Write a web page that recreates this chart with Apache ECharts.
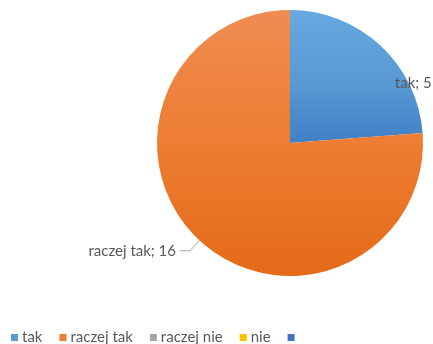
<!DOCTYPE html>
<html>
<head>
<meta charset="utf-8">
<script src="https://cdn.jsdelivr.net/npm/echarts@6/dist/echarts.min.js"></script>
<style>
  html, body { margin: 0; padding: 0; background: #fff; }
  #chart { width: 433px; height: 344px; }
</style>
</head>
<body>
<div id="chart"></div>
<script>
// dane
var categories = ['tak', 'raczej tak', 'raczej nie', 'nie', ' '];
var values = [5, 16, 0, 0, 0];
// kolory motywu (legenda) i gradient wycinków
var themeColors = ['#5B9BD5', '#ED7D31', '#A5A5A5', '#FFC000', '#4472C4'];
var topColors = ['#68A8E0', '#F08C52', '#B5B5B5', '#FFCA33', '#5580CC'];
var bottomColors = ['#4081C6', '#E46A18', '#959595', '#EBB000', '#3B66B5'];

var chart = echarts.init(document.getElementById('chart'));

var pieData = categories.map(function (name, i) {
  return {
    name: name,
    value: values[i],
    itemStyle: {
      color: new echarts.graphic.LinearGradient(0, 0, 0, 1, [
        { offset: 0, color: topColors[i] },
        { offset: 0.5, color: themeColors[i] },
        { offset: 1, color: bottomColors[i] }
      ])
    },
    label: { show: values[i] > 0 },
    labelLine: { show: values[i] > 0 }
  };
});
// etykieta "tak" przy krawędzi wycinka, jak w Excelu
pieData[0].label = { show: true, position: 'inside', offset: [76, -9] };
pieData[0].labelLine = { show: false };

chart.setOption({
  animation: false,
  textStyle: { fontFamily: 'Lato, "Liberation Sans", sans-serif' },
  legend: {
    data: categories.map(function (name, i) {
      return { name: name, itemStyle: { color: themeColors[i] } };
    }),
    left: 6,
    top: 325,
    icon: 'rect',
    itemWidth: 7,
    itemHeight: 7,
    itemGap: 17,
    textStyle: { color: '#595959', fontSize: 15, padding: [0, 0, 0, -1] }
  },
  series: [{
    type: 'pie',
    center: [290, 143],
    radius: 133,
    startAngle: 90,
    clockwise: true,
    avoidLabelOverlap: false,
    silent: true,
    data: pieData,
    label: {
      formatter: '{b}; {c}',
      color: '#595959',
      fontSize: 15,
      distanceToLabelLine: 4
    },
    labelLine: {
      length: 14,
      length2: 10,
      lineStyle: { color: '#A6A6A6', width: 1 }
    }
  }]
});
</script>
</body>
</html>
